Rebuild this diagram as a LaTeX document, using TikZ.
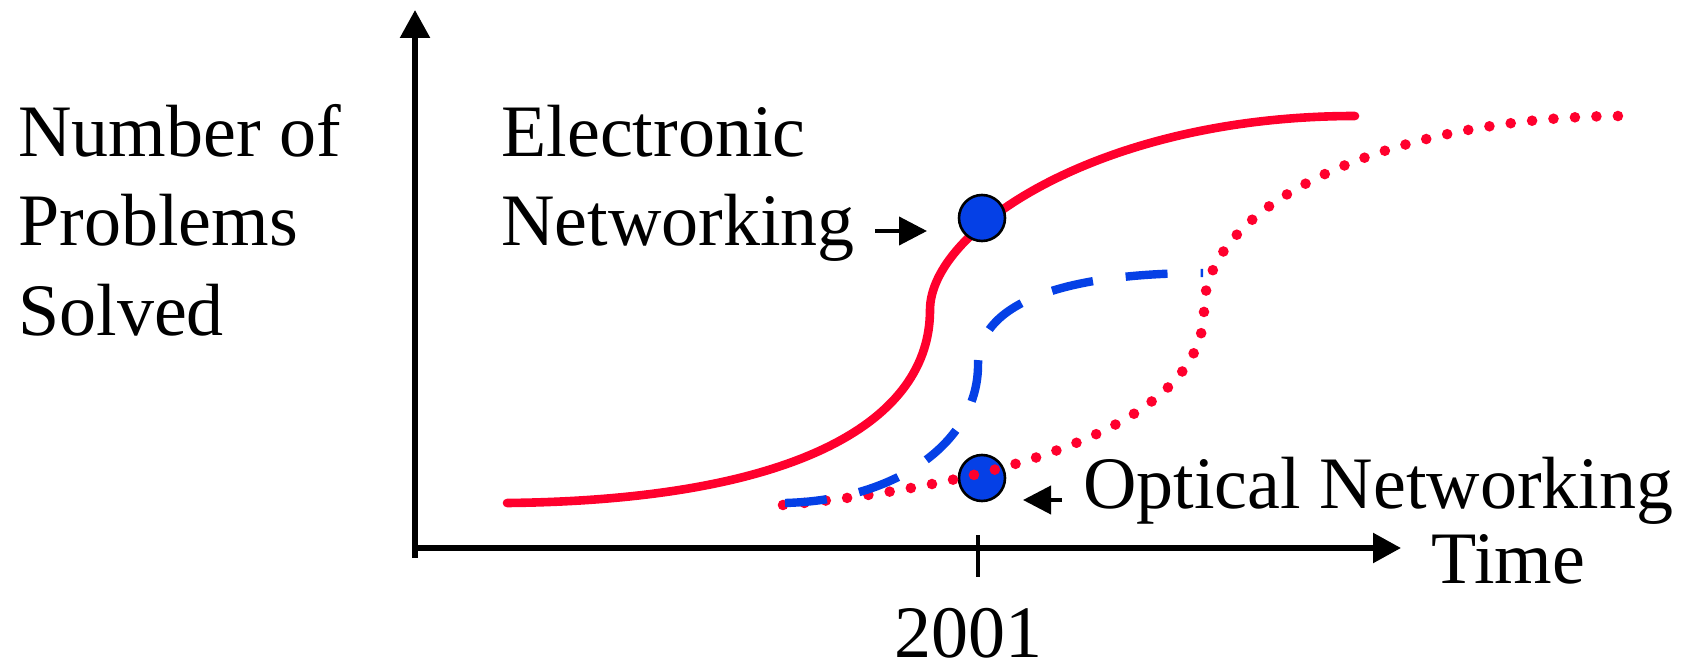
\documentclass[tikz,border=0pt]{standalone}
\usepackage{fontspec}
\newfontfamily\timesfont{Liberation Serif}
\usepackage{xcolor}
\usetikzlibrary{arrows.meta}

\definecolor{netred}{RGB}{255,0,45}
\definecolor{netblue}{RGB}{5,64,230}

\begin{document}
\begin{tikzpicture}[x=0.5pt, y=-0.5pt,
    label/.style={inner sep=0pt, font=\timesfont\fontsize{37}{44.5}\selectfont},
    axis/.style={line width=2.75pt, -{Triangle[length=14pt, width=14.5pt]}},
    pointer/.style={line width=2pt, -{Triangle[length=14pt, width=14pt]}},
    elec/.style={line width=4.3pt, netred, line cap=round},
    optical/.style={line width=5.3pt, netred, line cap=round, dash pattern=on 0pt off 10.75pt},
    hybrid/.style={line width=4.2pt, netblue, dash pattern=on 21pt off 16.5pt},
    event/.style={circle, draw=black, line width=1.3pt, fill=netblue, inner sep=0pt, minimum size=23pt}]

  \useasboundingbox (0,0) rectangle (1690,663);

  % Achsen
  \draw[axis] (415,558) -- (415,10);
  \draw[axis] (412,548) -- (1401,548);
  \draw[line width=1.75pt] (978,535) -- (978,577);
  \node[label, anchor=base, text depth=0pt] (year) at (968,657) {2001};
  \node[label, anchor=base west] (xlabel) at (1431,583) {Time};
  \node[label, anchor=base west, align=left] (ylabel) at (18,335) {Number of\\Problems\\Solved};

  % Kurven
  \draw[elec] (507,503) .. controls (800,500) and (930,420) .. (930,310)
              .. controls (930,230) and (1100,116) .. (1355,116);
  \node[event] (optdot) at (982,478) {};
  \draw[optical] (783,505) .. controls (950,490) and (1204,440) .. (1204,310)
                 .. controls (1204,200) and (1400,116) .. (1623,116);
  \draw[hybrid] (785,503) .. controls (900,500) and (978,440) .. (978,365)
                .. controls (978,290) and (1100,273) .. (1203,273);
  \node[event] (elecdot) at (982,218) {};

  % Beschriftungen
  \node[label, anchor=base west, align=left] (eleclabel) at (501,246) {Electronic\\Networking};
  \node[label, anchor=base west] (optlabel) at (1083,508) {Optical Networking};
  \coordinate (elecarrow) at (875,231);
  \coordinate (optarrow) at (1062,500);
  \draw[pointer] (elecarrow) -- ++(52,0);
  \draw[pointer] (optarrow) -- ++(-39,0);

\end{tikzpicture}
\end{document}
